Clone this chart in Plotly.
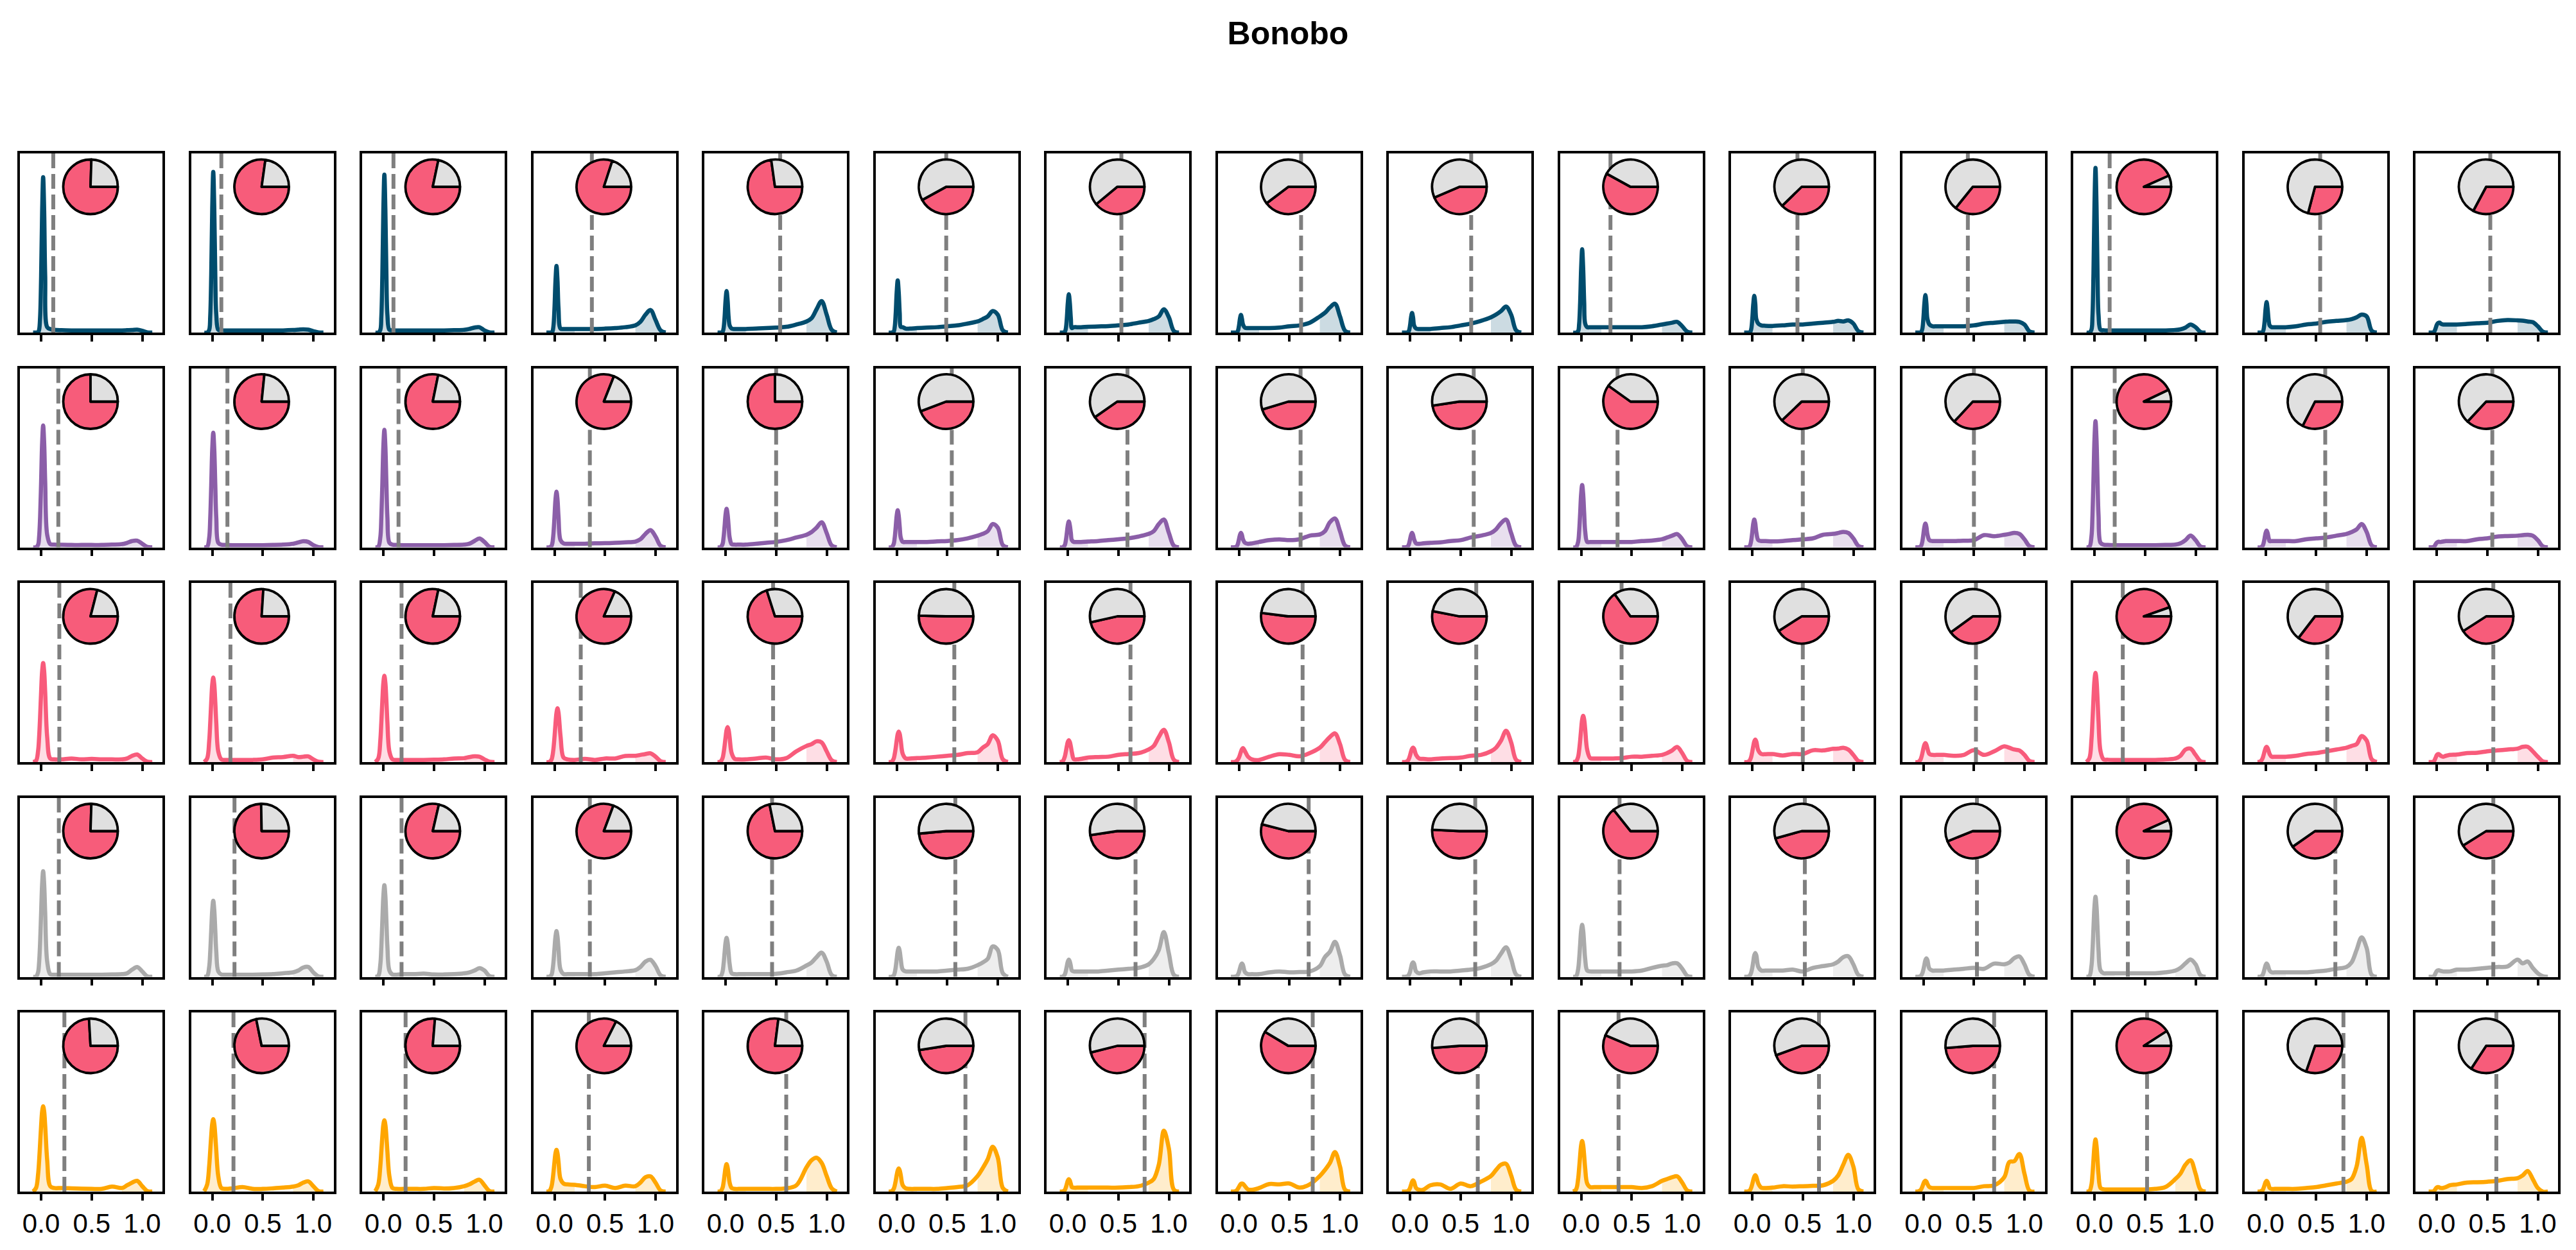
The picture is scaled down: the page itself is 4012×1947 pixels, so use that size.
import plotly.graph_objects as go

# ---------------- data ----------------
TITLE = "Bonobo"
X_GRID = [-0.08, -0.05, -0.03, -0.02, -0.01, 0.0, 0.01, 0.02, 0.03, 0.04, 0.06, 0.09, 0.13,
          0.2, 0.3, 0.4, 0.5, 0.6, 0.7, 0.8, 0.85, 0.9, 0.95, 1.0, 1.05, 1.1]
TICK_VALS = [0.0, 0.5, 1.0]
TICK_TEXT = ["0.0", "0.5", "1.0"]
LOW_CUT = 0.2
HIGH_CUT = 0.8

DENS_R1 = [
    [0, 0, .002, .015, .087, .315, .675, .867, .68, .32, .03, .02, .015, .013, .012, .012, .012, .012, .012, .012, .013, .014, .016, .01, .001, 0],
    [0, 0, .015, .09, .323, .695, .897, .695, .33, .1, .015, .013, .012, .012, .012, .012, .012, .012, .012, .014, .016, .018, .016, .008, .001, 0],
    [0, 0, .015, .088, .318, .684, .882, .684, .33, .1, .015, .013, .012, .012, .012, .012, .012, .012, .013, .015, .02, .028, .03, .012, .001, 0],
    [0, 0, .001, .006, .037, .134, .288, .372, .29, .135, .022, .02, .02, .02, .02, .02, .022, .025, .03, .04, .06, .1, .126, .07, .012, 0],
    [0, 0, .004, .023, .084, .18, .232, .18, .085, .04, .022, .02, .02, .02, .022, .025, .028, .032, .045, .062, .08, .13, .176, .1, .015, 0],
    [0, 0, .005, .029, .105, .226, .291, .226, .107, .032, .03, .022, .022, .025, .028, .03, .035, .04, .05, .062, .075, .09, .12, .1, .012, 0],
    [0, 0, .004, .021, .077, .166, .214, .166, .08, .025, .03, .03, .03, .032, .034, .036, .04, .045, .055, .065, .075, .09, .13, .085, .008, 0],
    [0, 0, 0, .002, .01, .036, .077, .099, .077, .045, .027, .025, .025, .025, .025, .028, .035, .04, .055, .09, .11, .14, .161, .09, .01, 0],
    [0, 0, 0, .002, .011, .039, .085, .109, .085, .04, .022, .02, .02, .02, .025, .03, .04, .05, .065, .085, .1, .12, .145, .1, .012, 0],
    [0, 0, .008, .047, .167, .36, .465, .36, .17, .05, .03, .03, .03, .03, .03, .03, .03, .03, .035, .045, .05, .055, .06, .035, .005, 0],
    [0, 0, 0, .003, .02, .074, .159, .205, .16, .075, .05, .04, .038, .037, .04, .045, .045, .05, .055, .06, .065, .062, .068, .05, .008, 0],
    [0, 0, 0, .004, .021, .076, .163, .21, .163, .077, .045, .035, .035, .035, .035, .035, .04, .05, .055, .06, .062, .062, .06, .045, .006, 0],
    [0, 0, .016, .092, .331, .712, .919, .712, .335, .1, .015, .013, .012, .012, .012, .012, .012, .012, .012, .014, .018, .028, .045, .03, .003, 0],
    [0, 0, .003, .017, .061, .132, .17, .132, .07, .04, .03, .03, .03, .03, .035, .045, .05, .06, .065, .07, .075, .085, .1, .09, .01, 0],
    [0, 0, .002, .01, .025, .042, .052, .055, .055, .05, .045, .045, .045, .045, .048, .052, .055, .065, .07, .068, .066, .062, .058, .035, .005, 0],
]
DENS_R2 = [
    [0, 0, .014, .058, .17, .367, .583, .68, .583, .37, .07, .018, .015, .014, .013, .013, .013, .013, .015, .018, .025, .035, .037, .02, .002, 0],
    [0, .003, .054, .16, .346, .548, .64, .548, .35, .165, .025, .015, .013, .012, .012, .012, .012, .013, .015, .02, .027, .034, .03, .012, .001, 0],
    [0, .003, .056, .164, .354, .562, .656, .562, .357, .17, .025, .015, .013, .012, .012, .012, .012, .012, .013, .015, .02, .035, .049, .03, .003, 0],
    [0, 0, .007, .026, .078, .168, .267, .311, .267, .17, .04, .022, .02, .02, .02, .022, .023, .025, .028, .032, .045, .075, .096, .06, .008, 0],
    [0, .001, .018, .054, .116, .184, .215, .184, .118, .056, .018, .015, .015, .015, .02, .025, .03, .04, .055, .07, .085, .11, .14, .08, .01, 0],
    [0, .001, .018, .052, .112, .177, .207, .177, .113, .055, .03, .03, .03, .03, .03, .033, .035, .04, .05, .065, .075, .09, .13, .11, .012, 0],
    [0, 0, .012, .036, .078, .123, .144, .123, .08, .04, .03, .03, .03, .032, .035, .04, .045, .05, .06, .075, .09, .13, .155, .08, .008, 0],
    [0, 0, .002, .007, .02, .044, .069, .081, .069, .045, .025, .02, .022, .03, .04, .044, .04, .045, .065, .072, .09, .14, .161, .09, .01, 0],
    [0, 0, .002, .007, .02, .044, .069, .081, .069, .045, .022, .02, .022, .025, .028, .035, .04, .055, .065, .08, .1, .135, .155, .08, .008, 0],
    [0, .001, .03, .087, .188, .298, .348, .298, .19, .09, .03, .03, .03, .03, .03, .03, .03, .035, .038, .045, .055, .065, .074, .045, .005, 0],
    [0, 0, .003, .013, .039, .084, .133, .155, .133, .085, .04, .035, .035, .033, .035, .04, .045, .05, .07, .075, .08, .086, .08, .05, .008, 0],
    [0, 0, .003, .011, .033, .072, .114, .133, .114, .073, .04, .035, .035, .035, .035, .037, .04, .068, .062, .07, .075, .081, .075, .045, .006, 0],
    [0, .003, .06, .176, .38, .603, .704, .603, .38, .18, .025, .015, .013, .012, .012, .012, .012, .012, .013, .015, .022, .04, .065, .04, .004, 0],
    [0, 0, .008, .023, .05, .08, .093, .08, .052, .035, .035, .035, .035, .035, .035, .045, .05, .055, .065, .075, .085, .1, .13, .085, .01, 0],
    [0, 0, .002, .008, .018, .026, .03, .031, .03, .03, .032, .035, .035, .035, .035, .045, .05, .06, .063, .065, .068, .07, .065, .04, .005, 0],
]
DENS_R3 = [
    [0, .008, .063, .138, .254, .393, .507, .553, .507, .393, .14, .02, .015, .015, .02, .015, .018, .015, .015, .015, .02, .035, .042, .02, .002, 0],
    [0, .021, .118, .217, .335, .433, .472, .433, .335, .218, .058, .015, .012, .012, .012, .012, .015, .025, .028, .035, .028, .03, .032, .015, .002, 0],
    [0, .021, .12, .222, .342, .442, .482, .442, .342, .222, .058, .015, .012, .012, .012, .012, .013, .015, .02, .022, .028, .032, .03, .015, .002, 0],
    [0, .001, .013, .034, .075, .138, .213, .275, .30, .275, .145, .025, .015, .012, .018, .012, .02, .02, .034, .035, .04, .045, .049, .03, .005, 0],
    [0, .003, .022, .049, .09, .138, .179, .195, .179, .138, .05, .018, .015, .015, .02, .025, .015, .022, .06, .09, .1, .116, .11, .06, .01, 0],
    [0, .002, .019, .043, .078, .121, .156, .17, .156, .121, .045, .02, .02, .022, .025, .03, .035, .04, .05, .055, .08, .1, .15, .12, .015, 0],
    [0, .005, .03, .056, .087, .112, .122, .112, .087, .056, .016, .015, .018, .025, .028, .03, .04, .045, .05, .07, .09, .14, .18, .11, .012, 0],
    [0, 0, .003, .008, .015, .025, .04, .058, .072, .078, .06, .03, .015, .012, .03, .044, .04, .032, .05, .08, .11, .14, .16, .1, .012, 0],
    [0, 0, .004, .009, .02, .037, .058, .074, .081, .074, .04, .02, .018, .015, .02, .022, .025, .035, .04, .06, .08, .12, .175, .11, .012, 0],
    [0, .004, .029, .065, .119, .183, .237, .258, .237, .183, .068, .022, .02, .02, .02, .022, .03, .03, .035, .04, .05, .065, .084, .05, .006, 0],
    [0, 0, .006, .014, .031, .058, .089, .115, .125, .115, .065, .045, .044, .045, .037, .045, .045, .066, .065, .074, .075, .08, .07, .04, .006, 0],
    [0, .001, .012, .027, .049, .075, .097, .106, .097, .076, .045, .04, .04, .04, .035, .04, .066, .04, .06, .088, .08, .07, .065, .04, .006, 0],
    [0, .022, .125, .229, .354, .457, .498, .457, .354, .23, .06, .015, .013, .012, .012, .012, .012, .012, .014, .02, .035, .07, .075, .04, .004, 0],
    [0, .004, .021, .039, .06, .078, .085, .078, .062, .045, .03, .03, .03, .03, .035, .045, .05, .06, .07, .08, .09, .1, .145, .12, .015, 0],
    [0, 0, .003, .012, .025, .038, .044, .044, .04, .035, .03, .035, .04, .042, .05, .052, .06, .065, .07, .075, .085, .085, .06, .03, .004, 0],
]
DENS_R4 = [
    [0, .001, .026, .08, .192, .36, .519, .59, .519, .36, .085, .015, .012, .012, .012, .012, .012, .012, .013, .015, .02, .04, .055, .03, .003, 0],
    [0, .005, .057, .138, .259, .374, .425, .374, .26, .14, .03, .013, .012, .012, .012, .012, .013, .015, .02, .025, .035, .052, .055, .025, .003, 0],
    [0, .006, .069, .166, .312, .451, .512, .451, .313, .17, .035, .013, .012, .015, .015, .018, .013, .013, .015, .02, .025, .035, .048, .035, .004, 0],
    [0, .001, .011, .034, .083, .156, .224, .255, .224, .156, .04, .016, .015, .015, .015, .015, .02, .025, .03, .037, .055, .085, .095, .06, .008, 0],
    [0, .002, .029, .071, .133, .192, .218, .192, .133, .073, .02, .015, .015, .015, .015, .015, .017, .025, .035, .063, .08, .11, .135, .085, .01, 0],
    [0, 0, .007, .022, .053, .099, .143, .162, .143, .1, .04, .03, .03, .03, .03, .03, .035, .04, .045, .065, .08, .1, .17, .15, .02, 0],
    [0, .001, .013, .031, .059, .085, .096, .085, .06, .035, .03, .03, .03, .03, .03, .035, .04, .045, .05, .07, .1, .15, .25, .13, .01, 0],
    [0, 0, .002, .005, .012, .026, .047, .066, .074, .066, .026, .015, .015, .015, .025, .03, .025, .027, .03, .06, .11, .14, .195, .12, .012, 0],
    [0, 0, .002, .005, .013, .028, .051, .073, .081, .073, .03, .02, .025, .03, .03, .03, .035, .04, .05, .07, .09, .13, .165, .1, .012, 0],
    [0, .003, .042, .097, .18, .258, .29, .258, .18, .1, .035, .03, .03, .03, .03, .03, .03, .035, .05, .062, .065, .075, .075, .045, .005, 0],
    [0, 0, .004, .011, .025, .05, .085, .12, .133, .12, .055, .035, .035, .035, .035, .04, .03, .05, .06, .07, .085, .11, .115, .07, .01, 0],
    [0, 0, .003, .009, .02, .04, .067, .093, .103, .093, .045, .035, .035, .035, .04, .045, .05, .045, .074, .07, .08, .105, .114, .07, .01, 0],
    [0, .005, .06, .145, .273, .393, .447, .393, .275, .15, .035, .02, .02, .02, .02, .02, .02, .02, .025, .035, .05, .075, .097, .07, .008, 0],
    [0, .001, .01, .024, .045, .065, .074, .067, .05, .035, .025, .025, .025, .025, .025, .025, .03, .035, .045, .055, .08, .15, .22, .16, .01, 0],
    [0, 0, .002, .01, .022, .032, .036, .037, .035, .033, .03, .03, .03, .04, .04, .045, .05, .055, .058, .096, .075, .086, .05, .02, .003, 0],
]
DENS_R5 = [
    [0, .021, .097, .171, .268, .369, .447, .476, .447, .369, .175, .03, .02, .02, .018, .016, .015, .015, .028, .02, .035, .05, .06, .03, .003, 0],
    [.002, .04, .145, .227, .313, .379, .404, .379, .313, .228, .085, .02, .015, .018, .025, .015, .015, .018, .022, .028, .035, .05, .057, .03, .003, 0],
    [.002, .04, .143, .224, .308, .373, .398, .373, .308, .224, .085, .02, .015, .015, .015, .015, .02, .017, .02, .03, .04, .055, .066, .035, .003, 0],
    [0, .003, .027, .058, .107, .165, .214, .233, .214, .165, .07, .045, .04, .038, .03, .025, .033, .02, .033, .03, .05, .08, .085, .05, .006, 0],
    [0, .002, .021, .05, .093, .135, .153, .135, .093, .05, .02, .015, .015, .015, .015, .015, .015, .018, .035, .135, .175, .189, .16, .087, .018, 0],
    [0, .002, .015, .032, .059, .092, .118, .129, .118, .092, .035, .018, .015, .015, .015, .015, .02, .025, .035, .087, .13, .18, .25, .19, .02, 0],
    [0, .001, .009, .022, .042, .061, .069, .061, .043, .025, .022, .022, .022, .022, .022, .022, .022, .025, .03, .05, .07, .15, .34, .24, .01, 0],
    [0, 0, .003, .008, .016, .026, .036, .043, .045, .043, .03, .012, .01, .02, .042, .04, .045, .022, .04, .087, .12, .16, .22, .14, .01, 0],
    [0, 0, .001, .003, .009, .02, .038, .055, .063, .055, .02, .01, .01, .035, .04, .015, .045, .03, .055, .087, .12, .15, .155, .09, .01, 0],
    [0, .012, .07, .13, .2, .259, .282, .259, .2, .13, .045, .025, .025, .025, .025, .025, .025, .02, .03, .06, .07, .08, .085, .05, .006, 0],
    [0, 0, .004, .01, .023, .042, .065, .083, .091, .083, .045, .022, .02, .022, .03, .028, .03, .032, .035, .06, .09, .15, .205, .14, .012, 0],
    [0, .001, .007, .015, .028, .043, .056, .061, .056, .043, .025, .02, .02, .02, .02, .02, .02, .03, .035, .08, .165, .17, .21, .1, .005, 0],
    [0, .003, .039, .095, .178, .256, .291, .256, .178, .096, .02, .013, .012, .012, .012, .012, .012, .015, .025, .07, .1, .15, .175, .1, .01, 0],
    [0, .001, .008, .02, .037, .053, .06, .053, .037, .02, .015, .015, .015, .015, .015, .02, .025, .035, .045, .055, .07, .14, .3, .15, .003, 0],
    [0, 0, .002, .008, .016, .023, .025, .025, .022, .02, .02, .025, .035, .04, .05, .052, .055, .06, .07, .075, .09, .115, .07, .02, 0, 0],
]

# vertical dashed threshold per panel
CUT_R1 = [0.12, 0.09, 0.10, 0.37, 0.54, 0.49, 0.53, 0.615, 0.605, 0.29, 0.447, 0.44, 0.15, 0.54, 0.53]
CUT_R2 = [0.17, 0.15, 0.15, 0.35, 0.50, 0.545, 0.59, 0.61, 0.63, 0.36, 0.50, 0.50, 0.20, 0.59, 0.55]
CUT_R3 = [0.18, 0.18, 0.18, 0.26, 0.47, 0.57, 0.62, 0.63, 0.655, 0.40, 0.50, 0.52, 0.28, 0.61, 0.56]
CUT_R4 = [0.175, 0.22, 0.18, 0.35, 0.46, 0.58, 0.67, 0.69, 0.645, 0.38, 0.52, 0.53, 0.33, 0.69, 0.56]
CUT_R5 = [0.23, 0.21, 0.22, 0.34, 0.60, 0.68, 0.76, 0.73, 0.67, 0.37, 0.66, 0.70, 0.52, 0.77, 0.59]

# grey share of each inset pie (the rest is red)
GREY_R1 = [0.245, 0.228, 0.217, 0.20, 0.272, 0.58, 0.61, 0.603, 0.564, 0.42, 0.623, 0.642, 0.067, 0.709, 0.672]
GREY_R2 = [0.25, 0.234, 0.218, 0.19, 0.25, 0.558, 0.597, 0.547, 0.524, 0.401, 0.621, 0.631, 0.071, 0.675, 0.631]
GREY_R3 = [0.21, 0.24, 0.217, 0.184, 0.299, 0.496, 0.535, 0.48, 0.469, 0.349, 0.59, 0.60, 0.054, 0.646, 0.591]
GREY_R4 = [0.245, 0.253, 0.214, 0.193, 0.282, 0.515, 0.524, 0.46, 0.492, 0.357, 0.543, 0.561, 0.067, 0.597, 0.589]
GREY_R5 = [0.259, 0.282, 0.237, 0.176, 0.23, 0.525, 0.539, 0.414, 0.513, 0.437, 0.556, 0.513, 0.091, 0.697, 0.658]

ROW_COLORS = ["#004c6d", "#8b5ea8", "#f85b7b", "#aaaaaa", "#ffa600"]
PIE_RED = "#f75c7a"
PIE_GREY = "#e0e0e0"

DENS = [DENS_R1, DENS_R2, DENS_R3, DENS_R4, DENS_R5]
CUTS = [CUT_R1, CUT_R2, CUT_R3, CUT_R4, CUT_R5]
GREYS = [GREY_R1, GREY_R2, GREY_R3, GREY_R4, GREY_R5]

for ri, rows in enumerate(DENS):
    for ci, vals in enumerate(rows):
        if len(vals) != len(X_GRID):
            raise ValueError(f"row {ri} col {ci}: {len(vals)} values")

# ---------------- geometry ----------------
W, H = 4012, 1947
N_ROWS, N_COLS = 5, 15
PANEL_W, PANEL_H = 222, 279
LEFT0, COL_STEP = 31, 266.5
TOP0, ROW_STEP = 239, 334.5
PIE_CX, PIE_CY, PIE_R = 110, 52, 42.5   # pixels within panel (from left / from top)
FONT = "Liberation Sans, Arial, sans-serif"


def rgba(hexc, a):
    hexc = hexc.lstrip("#")
    r, g, b = int(hexc[0:2], 16), int(hexc[2:4], 16), int(hexc[4:6], 16)
    return f"rgba({r},{g},{b},{a})"


fig = go.Figure()
layout_axes = {}

for r in range(N_ROWS):
    color = ROW_COLORS[r]
    for c in range(N_COLS):
        k = r * N_COLS + c + 1
        xname = "x" if k == 1 else f"x{k}"
        yname = "y" if k == 1 else f"y{k}"
        left = LEFT0 + COL_STEP * c
        top = TOP0 + ROW_STEP * r
        xdom = [left / W, (left + PANEL_W) / W]
        ydom = [1 - (top + PANEL_H) / H, 1 - top / H]
        bottom_row = (r == N_ROWS - 1)
        layout_axes["xaxis" if k == 1 else f"xaxis{k}"] = dict(
            domain=xdom, anchor=yname, range=[-0.21, 1.2],
            showgrid=False, zeroline=False,
            showline=True, mirror=True, linecolor="black", linewidth=3.5,
            ticks="outside", ticklen=10, tickwidth=3.5, tickcolor="black",
            tickvals=TICK_VALS, ticktext=TICK_TEXT,
            showticklabels=bottom_row,
            tickfont=dict(family=FONT, size=42, color="black"),
        )
        layout_axes["yaxis" if k == 1 else f"yaxis{k}"] = dict(
            domain=ydom, anchor=xname, range=[0, 1],
            showgrid=False, zeroline=False, showticklabels=False, ticks="",
            showline=True, mirror=True, linecolor="black", linewidth=3.5,
        )

        vals = DENS[r][c]
        lo_x = [x for x in X_GRID if x <= LOW_CUT]
        lo_y = [v for x, v in zip(X_GRID, vals) if x <= LOW_CUT]
        hi_x = [x for x in X_GRID if x >= HIGH_CUT]
        hi_y = [v for x, v in zip(X_GRID, vals) if x >= HIGH_CUT]
        for fx, fy in ((lo_x, lo_y), (hi_x, hi_y)):
            fig.add_trace(go.Scatter(
                x=fx, y=fy, xaxis=xname, yaxis=yname, mode="lines",
                line=dict(width=0, shape="spline", color=color),
                fill="tozeroy", fillcolor=rgba(color, 0.2),
                hoverinfo="skip", showlegend=False))
        fig.add_trace(go.Scatter(
            x=X_GRID, y=vals, xaxis=xname, yaxis=yname, mode="lines",
            line=dict(width=6.5, shape="spline", color=color),
            hoverinfo="skip", showlegend=False))
        cut = CUTS[r][c]
        fig.add_trace(go.Scatter(
            x=[cut, cut], y=[0, 1], xaxis=xname, yaxis=yname, mode="lines",
            line=dict(width=6, color="#7f7f7f", dash="23px,9px"),
            hoverinfo="skip", showlegend=False))

        g = GREYS[r][c]
        cx = left + PIE_CX
        cy = top + PIE_CY
        # red share first: plotly lays the first slice clockwise from the start
        # angle (3 o'clock), the grey share then runs counter-clockwise from it
        fig.add_trace(go.Pie(
            values=[1 - g, g], labels=["match", "other"],
            marker=dict(colors=[PIE_RED, PIE_GREY], line=dict(color="black", width=3.8)),
            sort=False, direction="counterclockwise", rotation=90,
            textinfo="none", hoverinfo="skip", showlegend=False,
            domain=dict(x=[(cx - PIE_R) / W, (cx + PIE_R) / W],
                        y=[1 - (cy + PIE_R) / H, 1 - (cy - PIE_R) / H])))

fig.update_layout(
    width=W, height=H, autosize=False,
    margin=dict(l=0, r=0, t=0, b=0),
    paper_bgcolor="white", plot_bgcolor="white",
    showlegend=False,
    title=dict(text=f"<b>{TITLE}</b>", x=0.5, xanchor="center",
               y=1 - 51 / H, yanchor="middle",
               font=dict(family=FONT, size=50, color="black")),
    **layout_axes,
)

fig.write_html("out.html")
